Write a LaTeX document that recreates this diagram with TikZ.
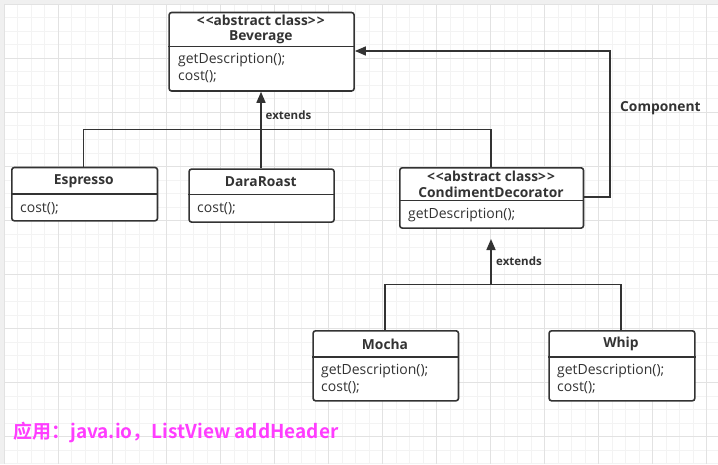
\documentclass[tikz,border=0pt]{standalone}
\usepackage{fontspec}
\setmainfont{Open Sans}
\newfontfamily\cjk{Noto Sans CJK SC}[BoldFont={Noto Sans CJK SC Bold}]
\usetikzlibrary{arrows.meta}
\definecolor{boxc}{HTML}{333333}
\definecolor{minorc}{HTML}{F3F3F3}
\definecolor{majorc}{HTML}{E2E2E2}
\definecolor{pinkc}{HTML}{FF3DFF}
\definecolor{outerc}{HTML}{F0F0F0}
\tikzset{
  umlbox/.style={draw=boxc, line width=1.6pt, rounded corners=2.5pt, fill=white, inner sep=0pt, anchor=north west},
  divider/.style={draw=boxc, line width=1.4pt},
  conn/.style={draw=boxc, line width=1.6pt},
  arr/.style={-{Triangle[width=9pt,length=11pt]}},
  ttl/.style={font=\bfseries\fontsize{13.8}{15}\selectfont, text=boxc, inner sep=0pt},
  mem/.style={font=\fontsize{14}{16}\selectfont, text=boxc, inner sep=0pt, anchor=west, align=left},
  lbl/.style={font=\bfseries\fontsize{11.5}{13}\selectfont, text=boxc, inner sep=0pt, anchor=west},
}
\newcommand{\stereo}{<\kern1pt<abstract class>\kern1pt>}
\begin{document}
\begin{tikzpicture}[x=1pt,y=-1pt]
\useasboundingbox (0,0) rectangle (718,464);
\fill[outerc] (0,0) rectangle (718,464);
\fill[white] (4.3,4.3) rectangle (718,464);
\foreach \i in {0,...,53} {\draw[minorc, line width=0.8pt] ({4.3+13.51*\i},4.3) -- ({4.3+13.51*\i},464);}
\foreach \i in {0,...,34} {\draw[minorc, line width=0.8pt] (4.3,{4.3+13.51*\i}) -- (718,{4.3+13.51*\i});}
\foreach \i in {0,...,13} {\draw[majorc, line width=0.8pt] ({4.3+54.03*\i},4.3) -- ({4.3+54.03*\i},464);}
\foreach \i in {0,...,8} {\draw[majorc, line width=0.8pt] (4.3,{4.3+54.03*\i}) -- (718,{4.3+54.03*\i});}

% Beverage
\node[umlbox, minimum width=185pt, minimum height=78.5pt] (bev) at (168.3,11.7) {};
\draw[divider] (bev.west |- 0,46.7) -- (bev.east |- 0,46.7);
\node[ttl] (bevst) at (260.8,20.5) {\stereo};
\node[ttl] (bevname) at (260.8,37.5) {Beverage};
\node[mem] (bevm1) at (178,60) {getDescription();};
\node[mem] (bevm2) at (178,76.5) {cost();};

% Espresso
\node[umlbox, minimum width=145.7pt, minimum height=53.3pt] (esp) at (11,166.7) {};
\draw[divider] (esp.west |- 0,194) -- (esp.east |- 0,194);
\node[ttl] (espname) at (83.8,181) {Espresso};
\node[mem] (espm1) at (20,208.5) {cost();};

% DaraRoast
\node[umlbox, minimum width=145pt, minimum height=53pt] (dara) at (188.3,168.3) {};
\draw[divider] (dara.west |- 0,194.7) -- (dara.east |- 0,194.7);
\node[ttl] (daraname) at (260.8,181.5) {DaraRoast};
\node[mem] (daram1) at (197,209) {cost();};

% CondimentDecorator
\node[umlbox, minimum width=183.7pt, minimum height=60.3pt] (cd) at (399,167) {};
\draw[divider] (cd.west |- 0,200.7) -- (cd.east |- 0,200.7);
\node[ttl] (cdst) at (491,176) {\stereo};
\node[ttl] (cdname) at (491,192.5) {CondimentDecorator};
\node[mem] (cdm1) at (408,215) {getDescription();};

% Mocha
\node[umlbox, minimum width=145.4pt, minimum height=70pt] (mocha) at (312.3,330) {};
\draw[divider] (mocha.west |- 0,357) -- (mocha.east |- 0,357);
\node[ttl] (mochaname) at (385,344) {Mocha};
\node[mem] (mocham1) at (321,371.5) {getDescription();};
\node[mem] (mocham2) at (321,387.5) {cost();};

% Whip
\node[umlbox, minimum width=145.7pt, minimum height=70pt] (whip) at (548.3,330) {};
\draw[divider] (whip.west |- 0,357) -- (whip.east |- 0,357);
\node[ttl] (whipname) at (621,344) {Whip};
\node[mem] (whipm1) at (557,371.5) {getDescription();};
\node[mem] (whipm2) at (557,387.5) {cost();};

% connectors: Beverage hierarchy
\coordinate (espjoin) at (83.3,129.3);
\coordinate (cdjoin) at (491,129.3);
\draw[conn] (esp.north -| espjoin) -- (espjoin) -- (cdjoin) -- (cd.north -| cdjoin);
\draw[conn, arr] (dara.north -| 261,0) -- (bev.south -| 261,0);
\node[lbl] (ext1) at (265.5,115) {extends};

% Component
\coordinate (compR) at (610,196.7);
\coordinate (compT) at (610,51);
\draw[conn, arr] (cd.east |- compR) -- (compR) -- (compT) -- (bev.east |- compT);
\node[ttl, anchor=west] (comp) at (620,108.5) {Component};

% Decorator hierarchy
\coordinate (mochajoin) at (385,284.3);
\coordinate (whipjoin) at (620.7,284.3);
\coordinate (decjoin) at (491,284.3);
\coordinate (dectip) at (491,239);
\draw[conn] (mocha.north -| mochajoin) -- (mochajoin) -- (whipjoin) -- (whip.north -| whipjoin);
\draw[conn, arr] (decjoin) -- (dectip);
\node[lbl] (ext2) at (496,261) {extends};

% bottom note
\node[font=\cjk\bfseries\fontsize{19}{21}\selectfont, text=pinkc, inner sep=0pt, anchor=west] (note) at (13,432) {应用：java.io，ListView addHeader};
\end{tikzpicture}
\end{document}
